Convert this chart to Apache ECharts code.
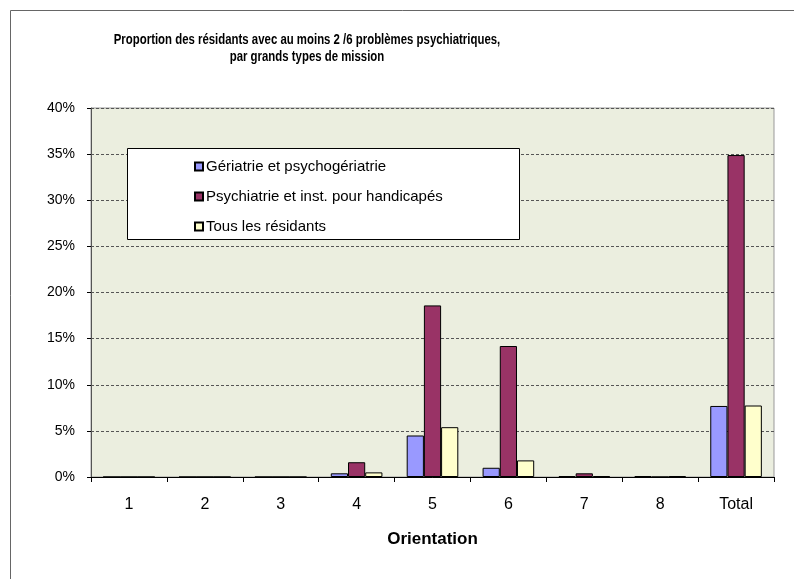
<!DOCTYPE html>
<html>
<head>
<meta charset="utf-8">
<script src="https://cdn.jsdelivr.net/npm/echarts@6/dist/echarts.min.js"></script>
<style>
  html, body { margin: 0; padding: 0; background: #fff; }
  #chart { width: 794px; height: 579px; }
</style>
</head>
<body>
<div id="chart"></div>
<script>
// categories (orientation)
const categories = ['1', '2', '3', '4', '5', '6', '7', '8', 'Total'];

// series names
const seriesNames = [
  'Gériatrie et psychogériatrie',
  'Psychiatrie et inst. pour handicapés',
  'Tous les résidants'
];

// values in %
const geriatrie = [0, 0, 0, 0.4, 4.5, 1.0, 0.1, 0.1, 7.7];
const psychiatrie = [0, 0, 0, 1.6, 18.6, 14.2, 0.4, 0, 34.9];
const tous = [0, 0, 0, 0.5, 5.4, 1.8, 0.1, 0.1, 7.75];

const titleLines = [
  'Proportion des résidants avec au moins 2 /6 problèmes psychiatriques,',
  'par grands types de mission'
];

const colors = ['#9999FF', '#993366', '#FFFFCC'];

const chart = echarts.init(document.getElementById('chart'));

const mkSeries = (name, data, color) => ({
  name: name,
  type: 'bar',
  data: data,
  barGap: '0%',
  barCategoryGap: '32%',
  itemStyle: { color: color, borderColor: '#000', borderWidth: 1 }
});

// titre un peu condensé comme dans Excel
const titleText = (txt, x, y) => ({
  type: 'text',
  x: x,
  y: y,
  scaleX: 0.76,
  silent: true,
  style: {
    text: txt,
    x: 0,
    y: 0,
    align: 'center',
    verticalAlign: 'middle',
    fill: '#000',
    font: 'bold 15px "Liberation Sans", Arial, sans-serif'
  }
});

const option = {
  animation: false,
  textStyle: { fontFamily: 'Liberation Sans, Arial, sans-serif' },
  graphic: [
    // outer chart border
    {
      type: 'rect',
      shape: { x: 10.5, y: 10.5, width: 800, height: 600 },
      style: { fill: 'none', stroke: '#666', lineWidth: 1 },
      silent: true
    },
    titleText(titleLines[0], 307, 40),
    titleText(titleLines[1], 307, 57),
    // legend box
    {
      type: 'rect',
      shape: { x: 127.5, y: 148.5, width: 392, height: 91 },
      style: { fill: '#fff', stroke: '#000', lineWidth: 1 },
      z: 50,
      silent: true
    }
  ],
  legend: {
    orient: 'vertical',
    left: 189,
    top: 154,
    itemWidth: 8,
    itemHeight: 8,
    itemGap: 15,
    icon: 'rect',
    z: 60,
    textStyle: { fontSize: 15, color: '#000', padding: [0, 0, 0, -2] },
    data: seriesNames
  },
  grid: {
    left: 91,
    right: 20,
    top: 108,
    bottom: 102,
    show: true,
    backgroundColor: '#EBEEDF',
    borderColor: '#999',
    borderWidth: 1
  },
  xAxis: {
    type: 'category',
    data: categories,
    name: 'Orientation',
    nameLocation: 'middle',
    nameGap: 54,
    nameTextStyle: { fontSize: 17, fontWeight: 'bold', color: '#000' },
    axisLine: { lineStyle: { color: '#000', width: 1 } },
    axisTick: { show: true, length: 5, lineStyle: { color: '#000' } },
    axisLabel: { fontSize: 16, color: '#000', margin: 20 }
  },
  yAxis: {
    type: 'value',
    min: 0,
    max: 40,
    interval: 5,
    axisLine: { show: true, lineStyle: { color: '#555', width: 1 } },
    axisTick: { show: true, length: 4, lineStyle: { color: '#000' } },
    axisLabel: { fontSize: 14, color: '#000', margin: 16, formatter: '{value}%' },
    splitLine: { lineStyle: { color: '#555', type: [3, 2], width: 1 } }
  },
  series: [
    mkSeries(seriesNames[0], geriatrie, colors[0]),
    mkSeries(seriesNames[1], psychiatrie, colors[1]),
    mkSeries(seriesNames[2], tous, colors[2])
  ]
};

chart.setOption(option);
</script>
</body>
</html>
